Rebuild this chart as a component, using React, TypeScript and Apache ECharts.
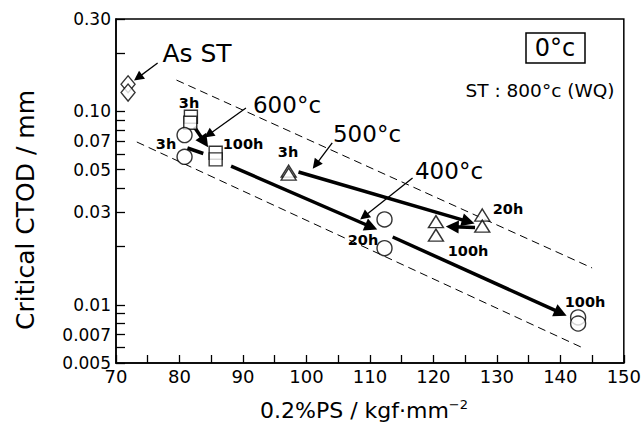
import React, { useEffect, useRef } from "react";
import * as echarts from "echarts";

// ---- data ----
const asST: number[][] = [[71.9, 0.138], [71.9, 0.125]];
const temper600: number[][] = [[81.8, 0.0937], [81.7, 0.0873], [85.7, 0.0611], [85.7, 0.0564]];
const temper500: number[][] = [[97.2, 0.049], [97.2, 0.0474], [120.4, 0.0269], [120.4, 0.0229], [127.7, 0.0291], [127.7, 0.0255]];
const temper400: number[][] = [[80.8, 0.0754], [80.8, 0.0582], [112.3, 0.0276], [112.3, 0.0196], [142.8, 0.0086], [142.8, 0.008]];

// thick trend arrows [from, to]
const trendArrows: number[][][] = [
  [[82.34, 0.083], [83.94, 0.0695]],
  [[88.125, 0.0521], [110.22, 0.02523]],
  [[98.75, 0.04856], [125.5, 0.0269]],
  [[126.56, 0.02508], [122.97, 0.02532]],
  [[113.59, 0.0224], [140.06, 0.00907]],
];
const trendSegments: number[][][] = [[[81.25, 0.0646], [83.75, 0.0605]]];
// thin pointer arrows
const pointerArrows: number[][][] = [
  [[76.56, 0.1777], [73.47, 0.1493]],
  [[90.47, 0.104], [84.58, 0.0757]],
  [[104.06, 0.0686], [101.47, 0.0529]],
  [[116.72, 0.0452], [109.08, 0.0286]],
];
// scatter band (dashed)
const bandLines: number[][][] = [
  [[79.53, 0.145], [145, 0.0155]],
  [[73.28, 0.0694], [143.28, 0.00604]],
];

const xTickValues = [70, 75, 80, 85, 90, 95, 100, 105, 110, 115, 120, 125, 130, 135, 140, 145, 150];
const yTickValues = [0.005, 0.006, 0.007, 0.008, 0.009, 0.01, 0.02, 0.03, 0.04, 0.05, 0.06, 0.07, 0.08, 0.09, 0.1, 0.2, 0.3];
const yLabelValues = [0.005, 0.007, 0.01, 0.03, 0.05, 0.07, 0.1, 0.3];
const yLabelTexts = ["0.005", "0.007", "0.01", "0.03", "0.05", "0.07", "0.10", "0.30"];

const FONT = "'DejaVu Sans', 'Liberation Sans', Arial, sans-serif";

export default function App() {
  const ref = useRef<HTMLDivElement>(null);
  useEffect(() => {
    if (!ref.current) return;
    const chart = echarts.init(ref.current, null, { renderer: "svg" });
    const marker = { color: "#fff", borderColor: "#000", borderWidth: 1.4 };
    const txt = (text: string, x: number, y: number, size: number, weight = "normal") => ({
      type: "text",
      x,
      y,
      style: { text, fontSize: size, fontWeight: weight, fontFamily: FONT, fill: "#000", align: "center", verticalAlign: "middle" },
      z: 10,
    });
    chart.setOption({
      animation: false,
      backgroundColor: "#fff",
      grid: { left: 116, top: 19, width: 512, height: 344, show: true, borderColor: "#000", borderWidth: 1.5, backgroundColor: "transparent" },
      xAxis: {
        type: "value",
        min: 70,
        max: 150,
        interval: 10,
        axisLine: { show: true, lineStyle: { color: "#000", width: 1.5 } },
        axisTick: { show: true, inside: true, length: 8, customValues: xTickValues, lineStyle: { color: "#000", width: 1.3 } },
        axisLabel: { color: "#000", fontSize: 18, lineHeight: 15, fontFamily: FONT, margin: 6 },
        splitLine: { show: false },
      },
      yAxis: {
        type: "log",
        logBase: 10,
        min: 0.005,
        max: 0.3,
        axisLine: { show: true, lineStyle: { color: "#000", width: 1.5 } },
        axisTick: { show: true, inside: true, length: 9, customValues: yTickValues, lineStyle: { color: "#000", width: 1.3 } },
        axisLabel: {
          color: "#000",
          fontSize: 17,
          lineHeight: 12,
          fontFamily: FONT,
          margin: 5,
          customValues: yLabelValues,
          formatter: (v: number) => {
            let best = 0;
            let d = Infinity;
            yLabelValues.forEach((l, i) => {
              const dd = Math.abs(Math.log(l) - Math.log(v));
              if (dd < d) { d = dd; best = i; }
            });
            return yLabelTexts[best];
          },
        },
        splitLine: { show: false },
        minorTick: { show: false },
      },
      series: [
        {
          type: "lines",
          coordinateSystem: "cartesian2d",
          symbol: ["none", "none"],
          lineStyle: { color: "#000", width: 1, type: [8, 5], opacity: 1 },
          data: bandLines.map((c) => ({ coords: c })),
          z: 2,
        },
        {
          type: "lines",
          coordinateSystem: "cartesian2d",
          symbol: ["none", "triangle"],
          symbolSize: [10, 13],
          lineStyle: { color: "#000", width: 3.5, opacity: 1 },
          data: trendArrows.map((c) => ({ coords: c })),
          z: 3,
        },
        {
          type: "lines",
          coordinateSystem: "cartesian2d",
          symbol: ["none", "none"],
          lineStyle: { color: "#000", width: 3.5, opacity: 1 },
          data: trendSegments.map((c) => ({ coords: c })),
          z: 3,
        },
        {
          type: "lines",
          coordinateSystem: "cartesian2d",
          symbol: ["none", "triangle"],
          symbolSize: [7, 10],
          lineStyle: { color: "#000", width: 1.3, opacity: 1 },
          data: pointerArrows.map((c) => ({ coords: c })),
          z: 3,
        },
        { type: "scatter", symbol: "diamond", symbolSize: [14, 17], itemStyle: marker, data: asST, z: 4 },
        { type: "scatter", symbol: "rect", symbolSize: 13, itemStyle: marker, data: temper600, z: 4 },
        { type: "scatter", symbol: "triangle", symbolSize: [15, 12], itemStyle: marker, data: temper500, z: 4 },
        { type: "scatter", symbol: "circle", symbolSize: 15, itemStyle: marker, data: temper400, z: 4 },
      ],
      graphic: [
        txt("As ST", 197, 53, 25),
        txt("600°c", 287, 105, 23),
        txt("500°c", 367, 134, 23),
        txt("400°c", 449, 171, 23),
        { type: "rect", shape: { x: 526, y: 33, width: 59, height: 30 }, style: { fill: "none", stroke: "#000", lineWidth: 1.5 }, z: 10 },
        txt("0°c", 555, 48, 24),
        txt("ST : 800°c (WQ)", 540, 90, 18.5),
        txt("3h", 189, 103, 14.5, "bold"),
        txt("3h", 166, 144, 14.5, "bold"),
        txt("100h", 243, 144, 14.5, "bold"),
        txt("3h", 288, 152, 14.5, "bold"),
        txt("20h", 508, 209, 14.5, "bold"),
        txt("100h", 468, 251, 14.5, "bold"),
        txt("20h", 363, 240, 14.5, "bold"),
        txt("100h", 585, 302, 14.5, "bold"),
        {
          type: "text",
          x: 25,
          y: 210,
          rotation: Math.PI / 2,
          style: { text: "Critical CTOD / mm", fontSize: 25, fontFamily: FONT, fill: "#000", align: "center", verticalAlign: "middle" },
          z: 10,
        },
        {
          type: "text",
          x: 364,
          y: 410,
          style: {
            text: "0.2%PS / kgf·mm{s|−2}",
            fontSize: 22,
            fontFamily: FONT,
            fill: "#000",
            align: "center",
            verticalAlign: "middle",
            rich: { s: { fontSize: 13, fontFamily: FONT, verticalAlign: "top", padding: [0, 0, 12, 0] } },
          },
          z: 10,
        },
      ],
    });
    return () => chart.dispose();
  }, []);
  return <div ref={ref} style={{ width: 644, height: 428, position: "absolute", left: 0, top: 0 }} />;
}
